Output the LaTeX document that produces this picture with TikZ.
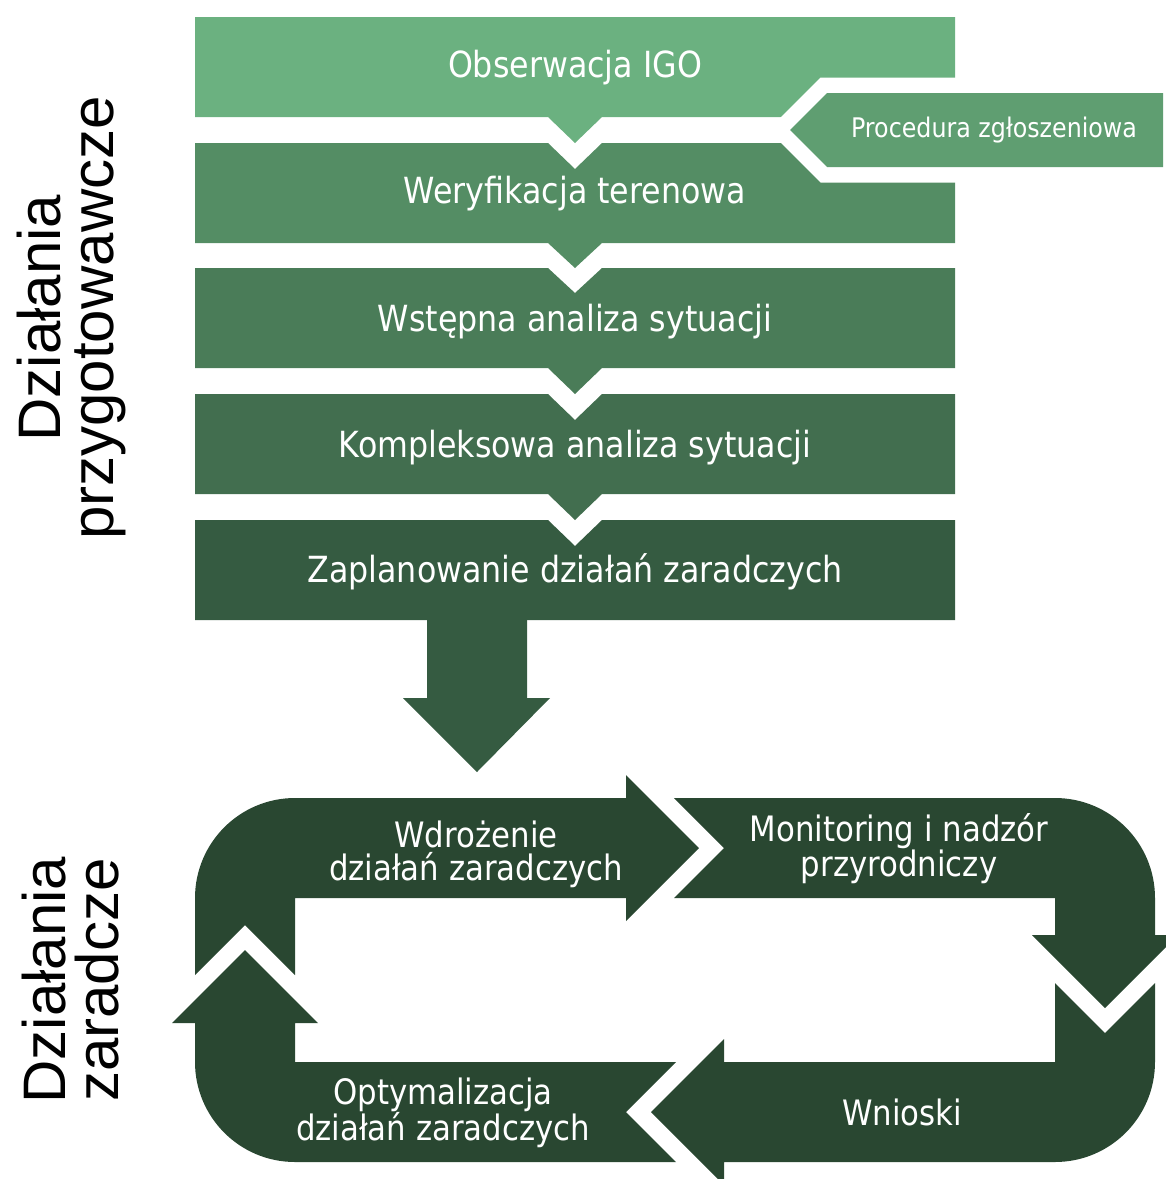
\documentclass[tikz,border=0pt]{standalone}
\usepackage{fontspec}
\newfontfamily\boxfont{DejaVu Sans}[FakeStretch=0.88]
\newfontfamily\sidefont{Liberation Sans}
\definecolor{cA}{RGB}{107,177,128}
\definecolor{cP}{RGB}{95,158,113}
\definecolor{cB}{RGB}{84,141,100}
\definecolor{cC}{RGB}{74,124,88}
\definecolor{cD}{RGB}{66,110,79}
\definecolor{cE}{RGB}{53,91,65}
\definecolor{cCyc}{RGB}{41,71,49}
\tikzset{
  boxtext/.style={text=white, inner sep=0pt, font=\boxfont\fontsize{36}{40}\selectfont},
  proctext/.style={text=white, inner sep=0pt, font=\boxfont\fontsize{27}{30}\selectfont},
  cyctext/.style={text=white, inner sep=0pt, align=center, font=\boxfont\fontsize{35}{33}\selectfont},
  sidetext/.style={text=black, inner sep=0pt, align=center, rotate=90, font=\sidefont\fontsize{60}{53}\selectfont},
}
\begin{document}
\begin{tikzpicture}[x=1pt,y=-1pt]
\useasboundingbox (0,0) rectangle (1166,1179);
% --- preparatory boxes ---
\fill[cA] (195,17) -- (955,17) -- (955,117) -- (602,117) -- (575,143) -- (548,117) -- (195,117) -- cycle;
\fill[cB] (195,143) -- (548,143) -- (575,169) -- (602,143) -- (955,143) -- (955,243) -- (602,243) -- (575,268) -- (548,243) -- (195,243) -- cycle;
\fill[cC] (195,268) -- (548,268) -- (575,293) -- (602,268) -- (955,268) -- (955,368) -- (602,368) -- (575,394) -- (548,368) -- (195,368) -- cycle;
\fill[cD] (195,394) -- (548,394) -- (575,420) -- (602,394) -- (955,394) -- (955,494) -- (602,494) -- (575,520) -- (548,494) -- (195,494) -- cycle;
\fill[cE] (195,520) -- (548,520) -- (575,546) -- (602,520) -- (955,520) -- (955,620) -- (195,620) -- cycle;
% big down arrow
\fill[cE] (427,615) -- (527,615) -- (527,698) -- (550,698) -- (477,772) -- (403,698) -- (427,698) -- cycle;
% procedura pentagon with white gap
\draw[white, line width=31pt, line join=miter] (790,130) -- (827,93) -- (1163,93) -- (1163,167) -- (827,167) -- cycle;
\fill[cP] (790,130) -- (827,93) -- (1163,93) -- (1163,167) -- (827,167) -- cycle;
% texts
\node[boxtext] (obs) at (575,68) {Obserwacja IGO};
\node[boxtext] (wer) at (575,194) {Weryfikacja terenowa};
\node[boxtext] (wst) at (575,322) {Wstępna analiza sytuacji};
\node[boxtext] (kom) at (575,448) {Kompleksowa analiza sytuacji};
\node[boxtext] (zap) at (575,572) {Zaplanowanie działań zaradczych};
\node[proctext] (proc) at (994,130) {Procedura zgłoszeniowa};
% --- cycle ---
\fill[cCyc] (626,798) -- (626,775) -- (699,848) -- (626,921) -- (626,898) -- (295,898) -- (295,975) -- (245,925) -- (195,975) -- (195,898) arc[start angle=180, end angle=270, radius=100] -- cycle;
\fill[cCyc] (674,798) -- (1055,798) arc[start angle=270, end angle=360, radius=100] -- (1155,935) -- (1178,935) -- (1105,1008) -- (1032,935) -- (1055,935) -- (1055,898) -- (674,898) -- (724,848) -- cycle;
\fill[cCyc] (1155,983) -- (1155,1062) arc[start angle=0, end angle=90, radius=100] -- (724,1162) -- (724,1185) -- (651,1112) -- (724,1039) -- (724,1062) -- (1055,1062) -- (1055,983) -- (1105,1033) -- cycle;
\fill[cCyc] (676,1162) -- (295,1162) arc[start angle=90, end angle=180, radius=100] -- (195,1023) -- (172,1023) -- (245,950) -- (318,1023) -- (295,1023) -- (295,1062) -- (676,1062) -- (626,1112) -- cycle;
\node[cyctext] (wdr) at (476,854) {Wdrożenie\\działań zaradczych};
\node[cyctext] (mon) at (899,849) {Monitoring i nadzór\\przyrodniczy};
\node[cyctext] (wni) at (902,1112) {Wnioski};
\node[cyctext] (opt) at (443,1113) {Optymalizacja\\działań zaradczych};
% side labels
\node[sidetext] (prep) at (71,318) {Działania\\przygotowawcze};
\node[sidetext] (zar) at (71,980) {Działania\\zaradcze};
\end{tikzpicture}
\end{document}
